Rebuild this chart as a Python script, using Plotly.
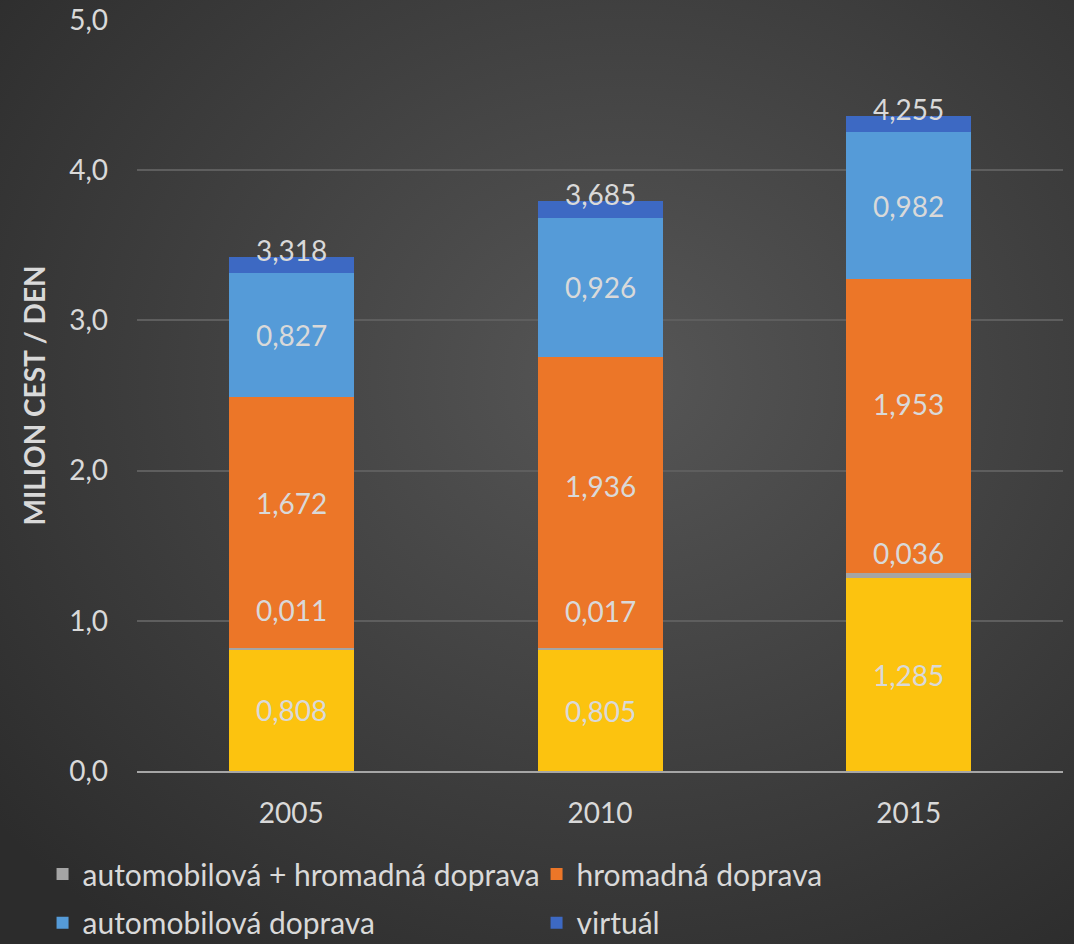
import base64
import plotly.graph_objects as go

years = ["2005", "2010", "2015"]
pesi = [0.808, 0.805, 1.285]
auto_hromadna = [0.011, 0.017, 0.036]
hromadna = [1.672, 1.936, 1.953]
automobilova = [0.827, 0.926, 0.982]
virtual = [0.104, 0.110, 0.106]
totals = [3.318, 3.685, 4.255]

# label nudges (Excel labels were moved by hand)
nudge_gray = [0.25, 0.24, 0.13]
nudge_orange = [0.13, 0.11, 0.145]
nudge_top = 0.1

series = [
    ("pěší", pesi, "#fcc30f", None),
    ("automobilová + hromadná doprava", auto_hromadna, "#a5a5a5", "legend"),
    ("hromadná doprava", hromadna, "#ec7628", "legend"),
    ("automobilová doprava", automobilova, "#559bd8", "legend2"),
    ("virtuál", virtual, "#3d69c3", "legend2"),
]

fig = go.Figure()
for name, vals, col, leg in series:
    fig.add_trace(go.Bar(
        x=years, y=vals, name=name, showlegend=leg is not None,
        legend=leg or "legend",
        marker=dict(color=col, line=dict(width=0)),
    ))

def fmt(v):
    return f"{v:.3f}".replace(".", ",")

lab_font = dict(family="Lato", size=28, color="#d9d9d9")
for i, yr in enumerate(years):
    b1 = pesi[i]
    b2 = b1 + auto_hromadna[i]
    b3 = b2 + hromadna[i]
    b4 = b3 + automobilova[i]
    pos = [
        (b1 / 2, pesi[i]),
        (b2 + nudge_gray[i], auto_hromadna[i]),
        ((b2 + b3) / 2 + nudge_orange[i], hromadna[i]),
        ((b3 + b4) / 2, automobilova[i]),
        (b4 + virtual[i] / 2 + nudge_top, totals[i]),
    ]
    # category axis: annotations take the category index
    for y, v in pos:
        fig.add_annotation(x=i, y=y, text=fmt(v), showarrow=False, font=lab_font)

# dark radial background like the Excel chart area
bg_svg = (
    '<svg xmlns="http://www.w3.org/2000/svg" width="1074" height="944">'
    '<defs><radialGradient id="g" cx="0.58" cy="0.40" r="0.75">'
    '<stop offset="0" stop-color="#565656"/><stop offset="1" stop-color="#2c2c2c"/>'
    '</radialGradient></defs><rect width="1074" height="944" fill="url(#g)"/></svg>'
)
bg_src = "data:image/svg+xml;base64," + base64.b64encode(bg_svg.encode()).decode()
fig.add_layout_image(
    source=bg_src, xref="paper", yref="paper",
    x=-137 / 926, y=1 + 20 / 751, sizex=1074 / 926, sizey=944 / 751,
    xanchor="left", yanchor="top", sizing="stretch", layer="below",
)

leg_style = dict(
    orientation="h", xanchor="left", yanchor="middle",
    entrywidth=449, entrywidthmode="pixels",
    font=dict(family="Lato", size=30, color="#d9d9d9"),
    traceorder="normal", bgcolor="rgba(0,0,0,0)",
)

fig.update_layout(
    barmode="stack",
    bargap=0.595,
    width=1074, height=944,
    paper_bgcolor="#3a3a3a",
    plot_bgcolor="rgba(0,0,0,0)",
    margin=dict(l=137, r=11, t=20, b=173, autoexpand=False),
    font=dict(family="Lato", color="#d9d9d9"),
    showlegend=True,
    legend=dict(x=-0.102, y=-0.137, **leg_style),
    legend2=dict(x=-0.102, y=-0.202, **leg_style),
    xaxis=dict(
        type="category",
        showgrid=False, showline=True, linecolor="#a6a6a6", linewidth=2,
        tickfont=dict(size=28, color="#d9d9d9"), ticklabelstandoff=16,
    ),
    yaxis=dict(
        range=[0, 5], dtick=1, tickformat=".1f",
        showgrid=True, gridcolor="#5e5e5e", gridwidth=2, zeroline=False,
        tickfont=dict(size=28, color="#d9d9d9"), ticklabelstandoff=28,
        title=dict(text="<b>MILION CEST / DEN</b>", font=dict(size=28, color="#d9d9d9"), standoff=15),
    ),
    separators=", ",
)

fig.write_html(
    "out.html",
    config={"displayModeBar": False},
    post_script="document.body.style.margin='0';document.body.style.overflow='hidden';",
)
